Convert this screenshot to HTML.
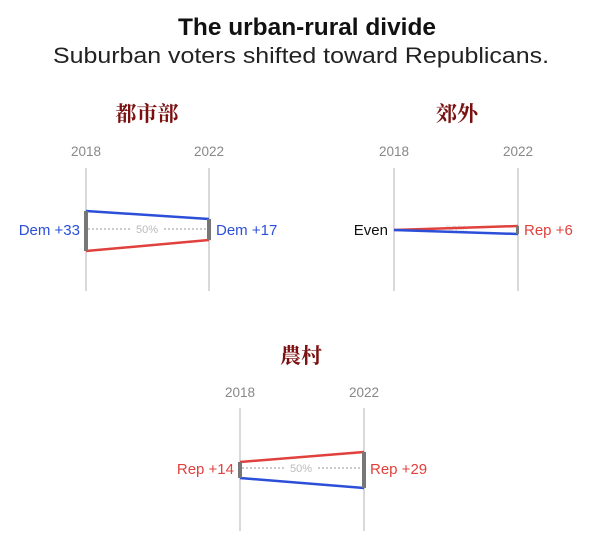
<!DOCTYPE html>
<html><head><meta charset="utf-8"><style>
body{margin:0;background:#fff;width:604px;height:551px;overflow:hidden}
</style></head><body>
<svg width="604" height="551" xmlns="http://www.w3.org/2000/svg" font-family="Liberation Sans, sans-serif">
<text x="307" y="35" text-anchor="middle" font-size="24" font-weight="bold" fill="#111" textLength="258" lengthAdjust="spacingAndGlyphs">The urban-rural divide</text>
<text x="301" y="63" text-anchor="middle" font-size="22" fill="#222" textLength="496" lengthAdjust="spacingAndGlyphs">Suburban voters shifted toward Republicans.</text>
<g font-family="Noto Serif CJK SC, serif" font-size="21" font-weight="bold" fill="#7a1010" text-anchor="middle">
<text x="147" y="121">都市部</text><text x="457" y="121">郊外</text><text x="301" y="363">農村</text></g>
<g font-size="13.5" fill="#888" text-anchor="middle">
<text x="86" y="156">2018</text><text x="209" y="156">2022</text>
<text x="394" y="156">2018</text><text x="518" y="156">2022</text>
<text x="240" y="397">2018</text><text x="364" y="397">2022</text></g>
<g stroke="#ccc" stroke-width="1.5">
<line x1="86" y1="168" x2="86" y2="291"/><line x1="209" y1="168" x2="209" y2="291"/>
<line x1="394" y1="168" x2="394" y2="291"/><line x1="518" y1="168" x2="518" y2="291"/>
<line x1="240" y1="408" x2="240" y2="531"/><line x1="364" y1="408" x2="364" y2="531"/></g>
<line x1="88" y1="229" x2="207" y2="229" stroke="#999" stroke-dasharray="2,2"/>
<rect x="132" y="222" width="30" height="14" fill="#fff"/>
<text x="147" y="233" text-anchor="middle" font-size="11" fill="#bbb">50%</text>
<line x1="86" y1="211" x2="209" y2="219" stroke="#2b4fd8" stroke-width="2.5"/>
<line x1="86" y1="251" x2="209" y2="240" stroke="#e0413c" stroke-width="2.5"/>
<rect x="84" y="211" width="4" height="40" fill="#777"/>
<rect x="207" y="219" width="4" height="21" fill="#777"/>
<text x="80" y="235" text-anchor="end" font-size="15" fill="#2b4fd8">Dem +33</text>
<text x="216" y="235" font-size="15" fill="#2b4fd8">Dem +17</text>
<text x="456" y="233" text-anchor="middle" font-size="11" fill="#ddd">50%</text>
<line x1="394" y1="230" x2="518" y2="226" stroke="#e0413c" stroke-width="2.5"/>
<line x1="394" y1="230" x2="518" y2="234" stroke="#2b4fd8" stroke-width="2.5"/>
<rect x="516" y="226" width="3" height="8" fill="#777"/>
<text x="388" y="235" text-anchor="end" font-size="15" fill="#111">Even</text>
<text x="524" y="235" font-size="15" fill="#e0413c">Rep +6</text>
<line x1="242" y1="468" x2="362" y2="468" stroke="#999" stroke-dasharray="2,2"/>
<rect x="286" y="461" width="30" height="14" fill="#fff"/>
<text x="301" y="472" text-anchor="middle" font-size="11" fill="#bbb">50%</text>
<line x1="240" y1="462" x2="364" y2="452" stroke="#e0413c" stroke-width="2.5"/>
<line x1="240" y1="478" x2="364" y2="488" stroke="#2b4fd8" stroke-width="2.5"/>
<rect x="238" y="462" width="4" height="16" fill="#777"/>
<rect x="362" y="452" width="4" height="36" fill="#777"/>
<text x="234" y="474" text-anchor="end" font-size="15" fill="#e0413c">Rep +14</text>
<text x="370" y="474" font-size="15" fill="#e0413c">Rep +29</text>
</svg>
</body></html>
